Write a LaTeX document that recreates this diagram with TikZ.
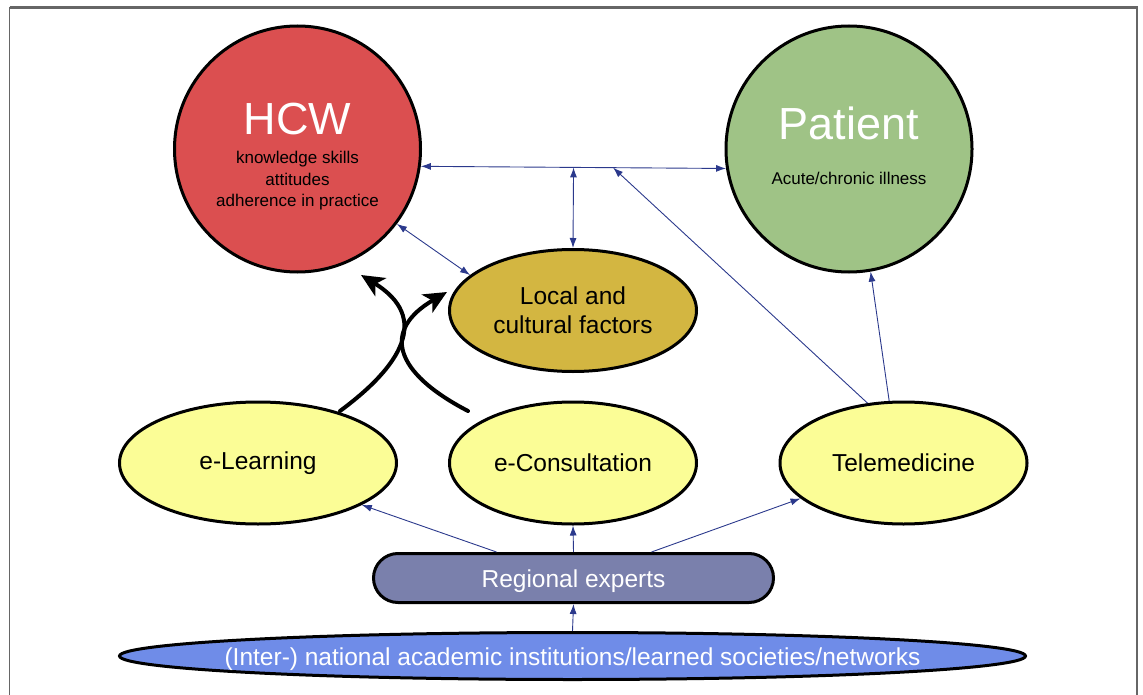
\documentclass[tikz,border=0pt]{standalone}
\usepackage{fontspec}
\setmainfont{Liberation Sans}
\usetikzlibrary{arrows.meta,shapes.geometric,calc}
\definecolor{hcwred}{RGB}{219,79,80}
\definecolor{patgreen}{RGB}{159,195,134}
\definecolor{localgold}{RGB}{211,182,65}
\definecolor{toolyellow}{RGB}{251,253,150}
\definecolor{expertgrey}{RGB}{122,128,172}
\definecolor{netblue}{RGB}{111,140,232}
\definecolor{linkblue}{RGB}{43,57,140}
\definecolor{framegrey}{RGB}{102,102,102}

\begin{document}
\begin{tikzpicture}[x=1pt,y=-1pt,
  blob/.style={draw=black,line width=3pt,inner sep=0pt},
  bigcircle/.style={blob,circle,minimum size=246pt},
  oval/.style={blob,ellipse,minimum width=247pt,minimum height=122pt,
    fill=toolyellow,font=\fontsize{24.5}{29}\selectfont,align=center},
  bodytext/.style={font=\fontsize{24.5}{29}\selectfont},
  title/.style={font=\fontsize{45}{54}\selectfont,text=white,anchor=base},
  small/.style={font=\fontsize{17}{21.5}\selectfont,align=center},
  link/.style={draw=linkblue,line width=0.9pt,-{Latex[length=10pt,width=7pt]}},
  duallink/.style={draw=linkblue,line width=0.9pt,{Latex[length=10pt,width=7pt]}-{Latex[length=10pt,width=7pt]}},
  flow/.style={draw=black,line width=4pt,line cap=round,-{Stealth[length=23pt,width=21pt,inset=6pt]}},
]
\useasboundingbox (0,0) rectangle (1143,695);

% outer frame, open at the bottom
\draw[framegrey,line width=2.2pt] (9.5,7.5) -- (1137,7.5) -- (1137,695);
\draw[framegrey,line width=1.2pt] (9.5,7.5) -- (9.5,695);

% the two main actors
\node[bigcircle,fill=hcwred] (hcw) at (297.5,149) {};
\node[bigcircle,fill=patgreen] (pat) at (849,149) {};
\node[title] (hcwtitle) at (297.5,135) {HCW};
\node[small,anchor=north,inner sep=0pt] (hcwtraits) at (297.5,151)
  {knowledge skills\\attitudes\\adherence in practice};
\node[title] (pattitle) at (849,140) {Patient};
\node[small,anchor=base,inner sep=0pt] (patill) at (849,185) {Acute/chronic illness};

% context and tools
\node[oval,fill=localgold] (loc) at (573,310.5) {Local and\\cultural factors};
\node[oval,minimum width=277pt] (elearn) at (258,463) {e-Learning};
\node[oval] (econs) at (573,463) {e-Consultation};
\node[oval] (tele) at (903.5,463) {Telemedicine};

% expert base
\node[blob,rounded corners=24.5pt,minimum width=400pt,minimum height=49pt,
  fill=expertgrey] (reg) at (573.5,578) {};
\node[bodytext,text=white] (reglabel) at ($(reg)+(0,3)$) {Regional experts};
\node[blob,ellipse,minimum width=906pt,minimum height=47pt,fill=netblue] (inst) at (572.5,656) {};
\node[bodytext,text=white] (instlabel) at ($(inst)+(0,3)$)
  {(Inter-) national academic institutions/learned societies/networks};

% relations between actors
\coordinate (hcwside) at (hcw.-8);
\coordinate (patside) at (pat.189);
\draw[duallink] (hcwside) -- (patside);
\draw[duallink] (loc.north) -- ($(hcwside)!(loc.north)!(patside)$);
\draw[duallink] (hcw.-37) -- (loc.161);
\draw[link] (tele.121) -- ($(hcwside)!0.63!(patside)$);
\draw[link] (tele.103) -- (pat.-80);

% experts feed the tools
\draw[link] ([xshift=-77pt]reg.north) -- (elearn.-22);
\draw[link] (reg.north) -- (econs.south);
\draw[link] ([xshift=78pt]reg.north) -- (tele.199);
\draw[link] (inst.north) -- (reg.south);

% two influence arrows that touch back to back
\coordinate (learnout) at (340,411);
\coordinate (learnin) at (361,275);
\coordinate (consout) at (468,411);
\coordinate (consin) at (447,292);
\draw[flow] (learnout) .. controls (401,366) and (431,318) .. (learnin);
\draw[flow] (consout) .. controls (393,372) and (382,330) .. (consin);
\end{tikzpicture}
\end{document}
